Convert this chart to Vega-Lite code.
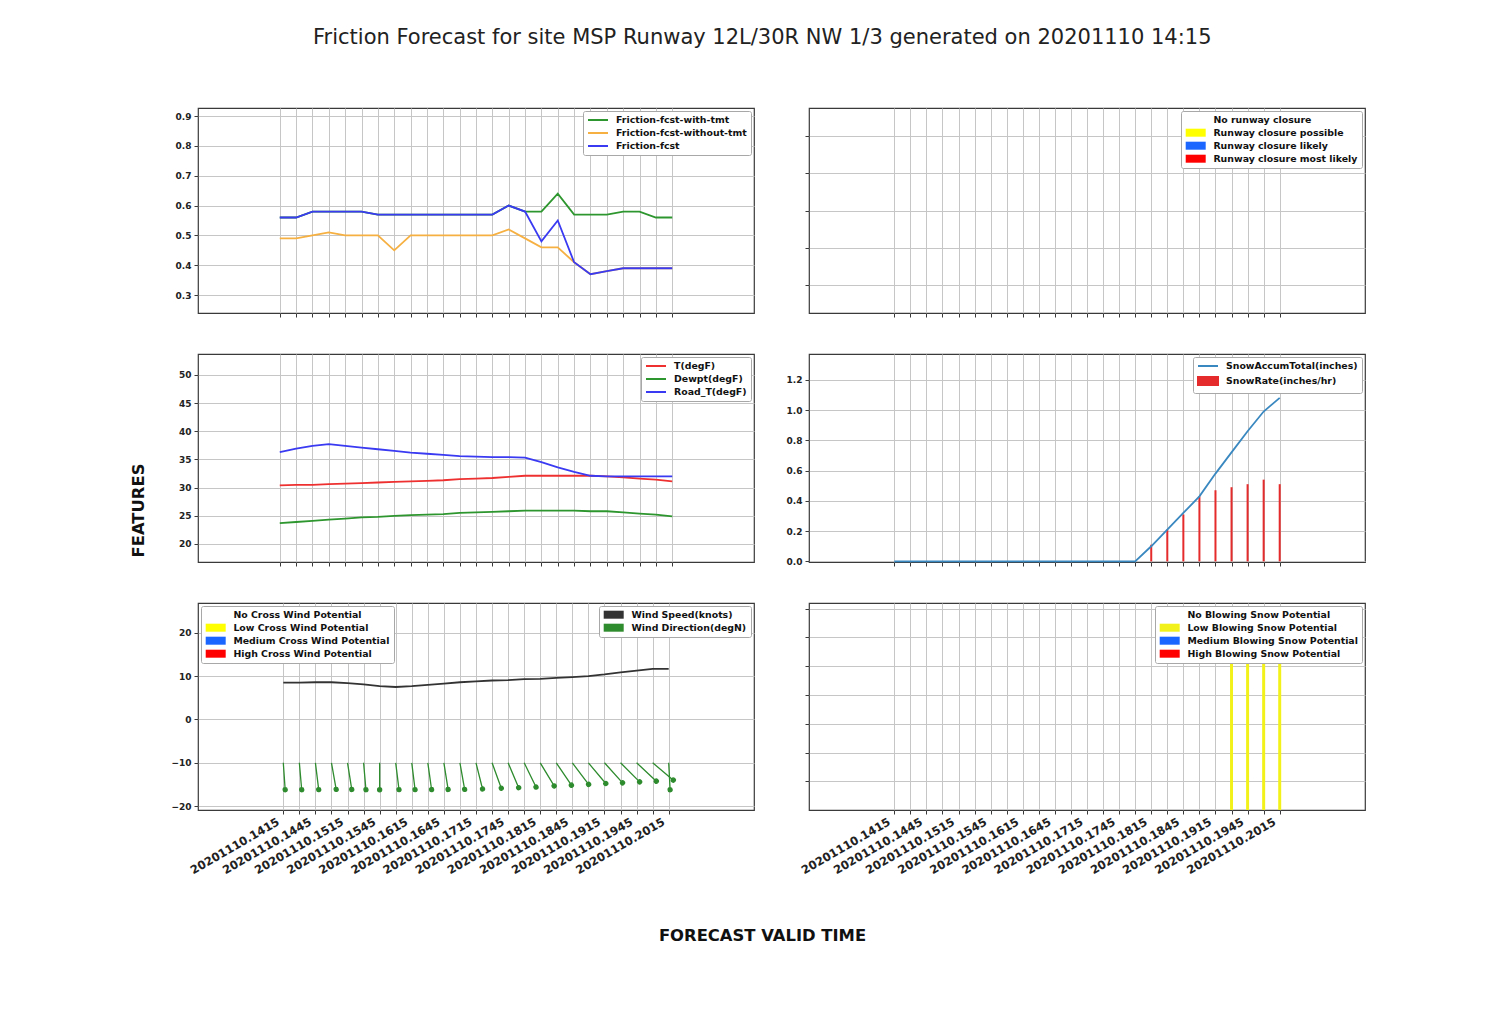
{
"$schema": "https://vega.github.io/schema/vega-lite/v6.json",
"autosize": {"type": "none"},
"padding": {"left": 198, "top": 108, "right": 1303, "bottom": 901},
"background": "white",
"title": {"text": "Friction Forecast for site MSP Runway 12L/30R NW 1/3 generated on 20201110 14:15", "font": "DejaVu Sans", "fontSize": 21, "fontWeight": "normal", "color": "#222222", "anchor": "start", "frame": "group", "dx": 115, "offset": 42, "baseline": "alphabetic"},
"data": {"format": {"parse": {"time": "date:'%Y%m%d.%H%M'"}}, "values": [
{"time":"20201110.1415","Friction-fcst-with-tmt":0.56,"Friction-fcst-without-tmt":0.49,"Friction-fcst":0.56,"T(degF)":30.4,"Dewpt(degF)":23.7,"Road_T(degF)":36.3,"acc":0,"rate":0,"ws":8.5,"wd":356,"cl":"No runway closure","clv":0,"cw":"No Cross Wind Potential","cwv":0,"bs":"No Blowing Snow Potential","bsv":0},
{"time":"20201110.1430","Friction-fcst-with-tmt":0.56,"Friction-fcst-without-tmt":0.49,"Friction-fcst":0.56,"T(degF)":30.5,"Dewpt(degF)":23.9,"Road_T(degF)":36.9,"acc":0,"rate":0,"ws":8.5,"wd":355,"cl":"No runway closure","clv":0,"cw":"No Cross Wind Potential","cwv":0,"bs":"No Blowing Snow Potential","bsv":0},
{"time":"20201110.1445","Friction-fcst-with-tmt":0.58,"Friction-fcst-without-tmt":0.50,"Friction-fcst":0.58,"T(degF)":30.5,"Dewpt(degF)":24.1,"Road_T(degF)":37.4,"acc":0,"rate":0,"ws":8.6,"wd":353,"cl":"No runway closure","clv":0,"cw":"No Cross Wind Potential","cwv":0,"bs":"No Blowing Snow Potential","bsv":0},
{"time":"20201110.1500","Friction-fcst-with-tmt":0.58,"Friction-fcst-without-tmt":0.51,"Friction-fcst":0.58,"T(degF)":30.6,"Dewpt(degF)":24.3,"Road_T(degF)":37.7,"acc":0,"rate":0,"ws":8.6,"wd":350,"cl":"No runway closure","clv":0,"cw":"No Cross Wind Potential","cwv":0,"bs":"No Blowing Snow Potential","bsv":0},
{"time":"20201110.1515","Friction-fcst-with-tmt":0.58,"Friction-fcst-without-tmt":0.50,"Friction-fcst":0.58,"T(degF)":30.7,"Dewpt(degF)":24.5,"Road_T(degF)":37.4,"acc":0,"rate":0,"ws":8.4,"wd":351,"cl":"No runway closure","clv":0,"cw":"No Cross Wind Potential","cwv":0,"bs":"No Blowing Snow Potential","bsv":0},
{"time":"20201110.1530","Friction-fcst-with-tmt":0.58,"Friction-fcst-without-tmt":0.50,"Friction-fcst":0.58,"T(degF)":30.8,"Dewpt(degF)":24.7,"Road_T(degF)":37.1,"acc":0,"rate":0,"ws":8.1,"wd":355,"cl":"No runway closure","clv":0,"cw":"No Cross Wind Potential","cwv":0,"bs":"No Blowing Snow Potential","bsv":0},
{"time":"20201110.1545","Friction-fcst-with-tmt":0.57,"Friction-fcst-without-tmt":0.50,"Friction-fcst":0.57,"T(degF)":30.9,"Dewpt(degF)":24.8,"Road_T(degF)":36.8,"acc":0,"rate":0,"ws":7.7,"wd":0,"cl":"No runway closure","clv":0,"cw":"No Cross Wind Potential","cwv":0,"bs":"No Blowing Snow Potential","bsv":0},
{"time":"20201110.1600","Friction-fcst-with-tmt":0.57,"Friction-fcst-without-tmt":0.45,"Friction-fcst":0.57,"T(degF)":31.0,"Dewpt(degF)":25.0,"Road_T(degF)":36.5,"acc":0,"rate":0,"ws":7.5,"wd":353,"cl":"No runway closure","clv":0,"cw":"No Cross Wind Potential","cwv":0,"bs":"No Blowing Snow Potential","bsv":0},
{"time":"20201110.1615","Friction-fcst-with-tmt":0.57,"Friction-fcst-without-tmt":0.50,"Friction-fcst":0.57,"T(degF)":31.1,"Dewpt(degF)":25.1,"Road_T(degF)":36.2,"acc":0,"rate":0,"ws":7.7,"wd":353,"cl":"No runway closure","clv":0,"cw":"No Cross Wind Potential","cwv":0,"bs":"No Blowing Snow Potential","bsv":0},
{"time":"20201110.1630","Friction-fcst-with-tmt":0.57,"Friction-fcst-without-tmt":0.50,"Friction-fcst":0.57,"T(degF)":31.2,"Dewpt(degF)":25.2,"Road_T(degF)":36.0,"acc":0,"rate":0,"ws":8.0,"wd":352,"cl":"No runway closure","clv":0,"cw":"No Cross Wind Potential","cwv":0,"bs":"No Blowing Snow Potential","bsv":0},
{"time":"20201110.1645","Friction-fcst-with-tmt":0.57,"Friction-fcst-without-tmt":0.50,"Friction-fcst":0.57,"T(degF)":31.3,"Dewpt(degF)":25.3,"Road_T(degF)":35.8,"acc":0,"rate":0,"ws":8.3,"wd":351,"cl":"No runway closure","clv":0,"cw":"No Cross Wind Potential","cwv":0,"bs":"No Blowing Snow Potential","bsv":0},
{"time":"20201110.1700","Friction-fcst-with-tmt":0.57,"Friction-fcst-without-tmt":0.50,"Friction-fcst":0.57,"T(degF)":31.5,"Dewpt(degF)":25.5,"Road_T(degF)":35.6,"acc":0,"rate":0,"ws":8.6,"wd":350,"cl":"No runway closure","clv":0,"cw":"No Cross Wind Potential","cwv":0,"bs":"No Blowing Snow Potential","bsv":0},
{"time":"20201110.1715","Friction-fcst-with-tmt":0.57,"Friction-fcst-without-tmt":0.50,"Friction-fcst":0.57,"T(degF)":31.6,"Dewpt(degF)":25.6,"Road_T(degF)":35.5,"acc":0,"rate":0,"ws":8.8,"wd":346,"cl":"No runway closure","clv":0,"cw":"No Cross Wind Potential","cwv":0,"bs":"No Blowing Snow Potential","bsv":0},
{"time":"20201110.1730","Friction-fcst-with-tmt":0.57,"Friction-fcst-without-tmt":0.50,"Friction-fcst":0.57,"T(degF)":31.7,"Dewpt(degF)":25.7,"Road_T(degF)":35.4,"acc":0,"rate":0,"ws":9.0,"wd":340,"cl":"No runway closure","clv":0,"cw":"No Cross Wind Potential","cwv":0,"bs":"No Blowing Snow Potential","bsv":0},
{"time":"20201110.1745","Friction-fcst-with-tmt":0.60,"Friction-fcst-without-tmt":0.52,"Friction-fcst":0.60,"T(degF)":31.9,"Dewpt(degF)":25.8,"Road_T(degF)":35.4,"acc":0,"rate":0,"ws":9.1,"wd":337,"cl":"No runway closure","clv":0,"cw":"No Cross Wind Potential","cwv":0,"bs":"No Blowing Snow Potential","bsv":0},
{"time":"20201110.1800","Friction-fcst-with-tmt":0.58,"Friction-fcst-without-tmt":0.49,"Friction-fcst":0.58,"T(degF)":32.1,"Dewpt(degF)":25.9,"Road_T(degF)":35.3,"acc":0,"rate":0,"ws":9.3,"wd":334,"cl":"No runway closure","clv":0,"cw":"No Cross Wind Potential","cwv":0,"bs":"No Blowing Snow Potential","bsv":0},
{"time":"20201110.1815","Friction-fcst-with-tmt":0.58,"Friction-fcst-without-tmt":0.46,"Friction-fcst":0.48,"T(degF)":32.1,"Dewpt(degF)":25.9,"Road_T(degF)":34.5,"acc":0.10,"rate":0.11,"ws":9.4,"wd":329,"cl":"No runway closure","clv":0,"cw":"No Cross Wind Potential","cwv":0,"bs":"No Blowing Snow Potential","bsv":0},
{"time":"20201110.1830","Friction-fcst-with-tmt":0.64,"Friction-fcst-without-tmt":0.46,"Friction-fcst":0.55,"T(degF)":32.1,"Dewpt(degF)":25.9,"Road_T(degF)":33.6,"acc":0.21,"rate":0.21,"ws":9.6,"wd":326,"cl":"No runway closure","clv":0,"cw":"No Cross Wind Potential","cwv":0,"bs":"No Blowing Snow Potential","bsv":0},
{"time":"20201110.1845","Friction-fcst-with-tmt":0.57,"Friction-fcst-without-tmt":0.41,"Friction-fcst":0.41,"T(degF)":32.1,"Dewpt(degF)":25.9,"Road_T(degF)":32.8,"acc":0.32,"rate":0.31,"ws":9.8,"wd":323,"cl":"No runway closure","clv":0,"cw":"No Cross Wind Potential","cwv":0,"bs":"No Blowing Snow Potential","bsv":0},
{"time":"20201110.1900","Friction-fcst-with-tmt":0.57,"Friction-fcst-without-tmt":0.37,"Friction-fcst":0.37,"T(degF)":32.1,"Dewpt(degF)":25.8,"Road_T(degF)":32.1,"acc":0.43,"rate":0.43,"ws":10.0,"wd":320,"cl":"No runway closure","clv":0,"cw":"No Cross Wind Potential","cwv":0,"bs":"No Blowing Snow Potential","bsv":0},
{"time":"20201110.1915","Friction-fcst-with-tmt":0.57,"Friction-fcst-without-tmt":0.38,"Friction-fcst":0.38,"T(degF)":32.0,"Dewpt(degF)":25.8,"Road_T(degF)":32.0,"acc":0.58,"rate":0.47,"ws":10.4,"wd":318,"cl":"No runway closure","clv":0,"cw":"No Cross Wind Potential","cwv":0,"bs":"No Blowing Snow Potential","bsv":0},
{"time":"20201110.1930","Friction-fcst-with-tmt":0.58,"Friction-fcst-without-tmt":0.39,"Friction-fcst":0.39,"T(degF)":31.8,"Dewpt(degF)":25.6,"Road_T(degF)":32.0,"acc":0.72,"rate":0.49,"ws":10.9,"wd":315,"cl":"No runway closure","clv":0,"cw":"No Cross Wind Potential","cwv":0,"bs":"Low Blowing Snow Potential","bsv":1.4},
{"time":"20201110.1945","Friction-fcst-with-tmt":0.58,"Friction-fcst-without-tmt":0.39,"Friction-fcst":0.39,"T(degF)":31.6,"Dewpt(degF)":25.4,"Road_T(degF)":32.0,"acc":0.86,"rate":0.51,"ws":11.3,"wd":313,"cl":"No runway closure","clv":0,"cw":"No Cross Wind Potential","cwv":0,"bs":"Low Blowing Snow Potential","bsv":1.4},
{"time":"20201110.2000","Friction-fcst-with-tmt":0.56,"Friction-fcst-without-tmt":0.39,"Friction-fcst":0.39,"T(degF)":31.4,"Dewpt(degF)":25.2,"Road_T(degF)":32.0,"acc":0.99,"rate":0.54,"ws":11.7,"wd":310,"cl":"No runway closure","clv":0,"cw":"No Cross Wind Potential","cwv":0,"bs":"Low Blowing Snow Potential","bsv":1.4},
{"time":"20201110.2015","Friction-fcst-with-tmt":0.56,"Friction-fcst-without-tmt":0.39,"Friction-fcst":0.39,"T(degF)":31.1,"Dewpt(degF)":24.9,"Road_T(degF)":32.0,"acc":1.08,"rate":0.51,"ws":11.7,"wd":357,"cl":"No runway closure","clv":0,"cw":"No Cross Wind Potential","cwv":0,"bs":"Low Blowing Snow Potential","bsv":1.4}
]},
"columns": 2,
"spacing": {"row": 41, "column": 55},
"bounds": "flush",
"align": "each",
"resolve": {"scale": {"color": "independent", "fill": "independent", "x": "independent", "y": "independent"}, "legend": {"color": "independent", "fill": "independent"}},
"concat": [
{
 "width": 556, "height": 205,
 "transform": [{"fold": ["Friction-fcst-with-tmt", "Friction-fcst-without-tmt", "Friction-fcst"], "as": ["series", "value"]}],
 "mark": {"type": "line", "strokeWidth": 1.8},
 "encoding": {
  "x": {"field": "time", "type": "temporal", "scale": {"domain": [{"year":2020,"month":11,"date":10,"hours":13,"minutes":0},{"year":2020,"month":11,"date":10,"hours":21,"minutes":30}]},
   "axis": {"labels": false, "title": null, "values": [{"year":2020,"month":11,"date":10,"hours":14,"minutes":15},{"year":2020,"month":11,"date":10,"hours":14,"minutes":30},{"year":2020,"month":11,"date":10,"hours":14,"minutes":45},{"year":2020,"month":11,"date":10,"hours":15,"minutes":0},{"year":2020,"month":11,"date":10,"hours":15,"minutes":15},{"year":2020,"month":11,"date":10,"hours":15,"minutes":30},{"year":2020,"month":11,"date":10,"hours":15,"minutes":45},{"year":2020,"month":11,"date":10,"hours":16,"minutes":0},{"year":2020,"month":11,"date":10,"hours":16,"minutes":15},{"year":2020,"month":11,"date":10,"hours":16,"minutes":30},{"year":2020,"month":11,"date":10,"hours":16,"minutes":45},{"year":2020,"month":11,"date":10,"hours":17,"minutes":0},{"year":2020,"month":11,"date":10,"hours":17,"minutes":15},{"year":2020,"month":11,"date":10,"hours":17,"minutes":30},{"year":2020,"month":11,"date":10,"hours":17,"minutes":45},{"year":2020,"month":11,"date":10,"hours":18,"minutes":0},{"year":2020,"month":11,"date":10,"hours":18,"minutes":15},{"year":2020,"month":11,"date":10,"hours":18,"minutes":30},{"year":2020,"month":11,"date":10,"hours":18,"minutes":45},{"year":2020,"month":11,"date":10,"hours":19,"minutes":0},{"year":2020,"month":11,"date":10,"hours":19,"minutes":15},{"year":2020,"month":11,"date":10,"hours":19,"minutes":30},{"year":2020,"month":11,"date":10,"hours":19,"minutes":45},{"year":2020,"month":11,"date":10,"hours":20,"minutes":0},{"year":2020,"month":11,"date":10,"hours":20,"minutes":15}]}},
  "y": {"field": "value", "type": "quantitative", "scale": {"domain": [0.24, 0.927], "nice": false, "zero": false}, "axis": {"values": [0.3, 0.4, 0.5, 0.6, 0.7, 0.8, 0.9], "format": ".1f", "title": null}},
  "color": {"field": "series", "type": "nominal", "sort": null, "scale": {"domain": ["Friction-fcst-with-tmt", "Friction-fcst-without-tmt", "Friction-fcst"], "range": ["#2e962e", "#f6b042", "#3a3af2"]}, "legend": {"title": null, "orient": "top-right", "symbolType": "M-2.5,0H2.5", "rowPadding": 3}}
 }
},
{
 "width": 556, "height": 205,
 "mark": {"type": "bar", "size": 3},
 "encoding": {
  "x": {"field": "time", "type": "temporal", "scale": {"domain": [{"year":2020,"month":11,"date":10,"hours":13,"minutes":0},{"year":2020,"month":11,"date":10,"hours":21,"minutes":30}]},
   "axis": {"labels": false, "title": null, "values": [{"year":2020,"month":11,"date":10,"hours":14,"minutes":15},{"year":2020,"month":11,"date":10,"hours":14,"minutes":30},{"year":2020,"month":11,"date":10,"hours":14,"minutes":45},{"year":2020,"month":11,"date":10,"hours":15,"minutes":0},{"year":2020,"month":11,"date":10,"hours":15,"minutes":15},{"year":2020,"month":11,"date":10,"hours":15,"minutes":30},{"year":2020,"month":11,"date":10,"hours":15,"minutes":45},{"year":2020,"month":11,"date":10,"hours":16,"minutes":0},{"year":2020,"month":11,"date":10,"hours":16,"minutes":15},{"year":2020,"month":11,"date":10,"hours":16,"minutes":30},{"year":2020,"month":11,"date":10,"hours":16,"minutes":45},{"year":2020,"month":11,"date":10,"hours":17,"minutes":0},{"year":2020,"month":11,"date":10,"hours":17,"minutes":15},{"year":2020,"month":11,"date":10,"hours":17,"minutes":30},{"year":2020,"month":11,"date":10,"hours":17,"minutes":45},{"year":2020,"month":11,"date":10,"hours":18,"minutes":0},{"year":2020,"month":11,"date":10,"hours":18,"minutes":15},{"year":2020,"month":11,"date":10,"hours":18,"minutes":30},{"year":2020,"month":11,"date":10,"hours":18,"minutes":45},{"year":2020,"month":11,"date":10,"hours":19,"minutes":0},{"year":2020,"month":11,"date":10,"hours":19,"minutes":15},{"year":2020,"month":11,"date":10,"hours":19,"minutes":30},{"year":2020,"month":11,"date":10,"hours":19,"minutes":45},{"year":2020,"month":11,"date":10,"hours":20,"minutes":0},{"year":2020,"month":11,"date":10,"hours":20,"minutes":15}]}},
  "y": {"field": "clv", "type": "quantitative", "scale": {"domain": [-0.055, 0.055], "nice": false, "zero": false}, "axis": {"values": [-0.04, -0.02, 0, 0.02, 0.04], "labels": false, "title": null}},
  "fill": {"field": "cl", "type": "nominal", "scale": {"domain": ["No runway closure", "Runway closure possible", "Runway closure likely", "Runway closure most likely"], "range": ["#ffffff", "#ffff00", "#1a66ff", "#ff0000"]}, "legend": {"title": null, "orient": "top-right", "symbolType": "M-2.5,-1H2.5V1H-2.5Z", "symbolStrokeWidth": 0, "rowPadding": 2}}
 }
},
{
 "width": 556, "height": 208,
 "transform": [{"fold": ["T(degF)", "Dewpt(degF)", "Road_T(degF)"], "as": ["series", "value"]}],
 "mark": {"type": "line", "strokeWidth": 1.8},
 "encoding": {
  "x": {"field": "time", "type": "temporal", "scale": {"domain": [{"year":2020,"month":11,"date":10,"hours":13,"minutes":0},{"year":2020,"month":11,"date":10,"hours":21,"minutes":30}]},
   "axis": {"labels": false, "title": null, "values": [{"year":2020,"month":11,"date":10,"hours":14,"minutes":15},{"year":2020,"month":11,"date":10,"hours":14,"minutes":30},{"year":2020,"month":11,"date":10,"hours":14,"minutes":45},{"year":2020,"month":11,"date":10,"hours":15,"minutes":0},{"year":2020,"month":11,"date":10,"hours":15,"minutes":15},{"year":2020,"month":11,"date":10,"hours":15,"minutes":30},{"year":2020,"month":11,"date":10,"hours":15,"minutes":45},{"year":2020,"month":11,"date":10,"hours":16,"minutes":0},{"year":2020,"month":11,"date":10,"hours":16,"minutes":15},{"year":2020,"month":11,"date":10,"hours":16,"minutes":30},{"year":2020,"month":11,"date":10,"hours":16,"minutes":45},{"year":2020,"month":11,"date":10,"hours":17,"minutes":0},{"year":2020,"month":11,"date":10,"hours":17,"minutes":15},{"year":2020,"month":11,"date":10,"hours":17,"minutes":30},{"year":2020,"month":11,"date":10,"hours":17,"minutes":45},{"year":2020,"month":11,"date":10,"hours":18,"minutes":0},{"year":2020,"month":11,"date":10,"hours":18,"minutes":15},{"year":2020,"month":11,"date":10,"hours":18,"minutes":30},{"year":2020,"month":11,"date":10,"hours":18,"minutes":45},{"year":2020,"month":11,"date":10,"hours":19,"minutes":0},{"year":2020,"month":11,"date":10,"hours":19,"minutes":15},{"year":2020,"month":11,"date":10,"hours":19,"minutes":30},{"year":2020,"month":11,"date":10,"hours":19,"minutes":45},{"year":2020,"month":11,"date":10,"hours":20,"minutes":0},{"year":2020,"month":11,"date":10,"hours":20,"minutes":15}]}},
  "y": {"field": "value", "type": "quantitative", "scale": {"domain": [16.8, 53.7], "nice": false, "zero": false}, "axis": {"values": [20, 25, 30, 35, 40, 45, 50], "title": "FEATURES", "titleFont": "DejaVu Sans", "titleFontSize": 16.4, "titleFontWeight": "bold", "titleColor": "#111111", "titleX": -60, "titleY": 156, "titleAngle": 270, "titleAlign": "center", "titleBaseline": "middle"}},
  "color": {"field": "series", "type": "nominal", "sort": null, "scale": {"domain": ["T(degF)", "Dewpt(degF)", "Road_T(degF)"], "range": ["#ee3030", "#2e962e", "#3a3af2"]}, "legend": {"title": null, "orient": "top-right", "symbolType": "M-2.5,0H2.5", "rowPadding": 3}}
 }
},
{
 "width": 556, "height": 208,
 "encoding": {"x": {"field": "time", "type": "temporal", "scale": {"domain": [{"year":2020,"month":11,"date":10,"hours":13,"minutes":0},{"year":2020,"month":11,"date":10,"hours":21,"minutes":30}]},
   "axis": {"labels": false, "title": null, "values": [{"year":2020,"month":11,"date":10,"hours":14,"minutes":15},{"year":2020,"month":11,"date":10,"hours":14,"minutes":30},{"year":2020,"month":11,"date":10,"hours":14,"minutes":45},{"year":2020,"month":11,"date":10,"hours":15,"minutes":0},{"year":2020,"month":11,"date":10,"hours":15,"minutes":15},{"year":2020,"month":11,"date":10,"hours":15,"minutes":30},{"year":2020,"month":11,"date":10,"hours":15,"minutes":45},{"year":2020,"month":11,"date":10,"hours":16,"minutes":0},{"year":2020,"month":11,"date":10,"hours":16,"minutes":15},{"year":2020,"month":11,"date":10,"hours":16,"minutes":30},{"year":2020,"month":11,"date":10,"hours":16,"minutes":45},{"year":2020,"month":11,"date":10,"hours":17,"minutes":0},{"year":2020,"month":11,"date":10,"hours":17,"minutes":15},{"year":2020,"month":11,"date":10,"hours":17,"minutes":30},{"year":2020,"month":11,"date":10,"hours":17,"minutes":45},{"year":2020,"month":11,"date":10,"hours":18,"minutes":0},{"year":2020,"month":11,"date":10,"hours":18,"minutes":15},{"year":2020,"month":11,"date":10,"hours":18,"minutes":30},{"year":2020,"month":11,"date":10,"hours":18,"minutes":45},{"year":2020,"month":11,"date":10,"hours":19,"minutes":0},{"year":2020,"month":11,"date":10,"hours":19,"minutes":15},{"year":2020,"month":11,"date":10,"hours":19,"minutes":30},{"year":2020,"month":11,"date":10,"hours":19,"minutes":45},{"year":2020,"month":11,"date":10,"hours":20,"minutes":0},{"year":2020,"month":11,"date":10,"hours":20,"minutes":15}]}}},
 "layer": [
  {"mark": {"type": "bar", "size": 2},
   "encoding": {
    "y": {"field": "rate", "type": "quantitative", "scale": {"domain": [-0.004, 1.37], "nice": false, "zero": false}, "axis": {"values": [0, 0.2, 0.4, 0.6, 0.8, 1.0, 1.2], "format": ".1f", "title": null}},
    "color": {"datum": "SnowRate(inches/hr)", "type": "nominal", "scale": {"domain": ["SnowAccumTotal(inches)", "SnowRate(inches/hr)"], "range": ["#3a88c0", "#e52b2b"]},
     "legend": {"title": null, "orient": "top-right", "symbolType": "M-2.5,0H2.5", "rowPadding": 2,
      "encode": {"symbols": {"update": {
        "shape": {"signal": "datum.label === 'SnowRate(inches/hr)' ? 'M-2.5,-1H2.5V1H-2.5Z' : 'M-2.5,0H2.5'"},
        "fill": {"signal": "datum.label === 'SnowRate(inches/hr)' ? '#ff0000' : 'transparent'"},
        "stroke": {"signal": "datum.label === 'SnowRate(inches/hr)' ? 'transparent' : '#3a88c0'"},
        "strokeWidth": {"value": 2}, "opacity": {"value": 1}}}}}}
   }},
  {"mark": {"type": "line", "strokeWidth": 1.8},
   "encoding": {
    "y": {"field": "acc", "type": "quantitative", "scale": {"domain": [-0.004, 1.37], "nice": false, "zero": false}, "axis": {"values": [0, 0.2, 0.4, 0.6, 0.8, 1.0, 1.2], "format": ".1f", "title": null}},
    "color": {"datum": "SnowAccumTotal(inches)", "type": "nominal"}
   }}
 ]
},
{
 "width": 556, "height": 207,
 "encoding": {"x": {"field": "time", "type": "temporal", "scale": {"domain": [{"year":2020,"month":11,"date":10,"hours":13,"minutes":0},{"year":2020,"month":11,"date":10,"hours":21,"minutes":30}]},
   "axis": {"values": [{"year":2020,"month":11,"date":10,"hours":14,"minutes":15},{"year":2020,"month":11,"date":10,"hours":14,"minutes":30},{"year":2020,"month":11,"date":10,"hours":14,"minutes":45},{"year":2020,"month":11,"date":10,"hours":15,"minutes":0},{"year":2020,"month":11,"date":10,"hours":15,"minutes":15},{"year":2020,"month":11,"date":10,"hours":15,"minutes":30},{"year":2020,"month":11,"date":10,"hours":15,"minutes":45},{"year":2020,"month":11,"date":10,"hours":16,"minutes":0},{"year":2020,"month":11,"date":10,"hours":16,"minutes":15},{"year":2020,"month":11,"date":10,"hours":16,"minutes":30},{"year":2020,"month":11,"date":10,"hours":16,"minutes":45},{"year":2020,"month":11,"date":10,"hours":17,"minutes":0},{"year":2020,"month":11,"date":10,"hours":17,"minutes":15},{"year":2020,"month":11,"date":10,"hours":17,"minutes":30},{"year":2020,"month":11,"date":10,"hours":17,"minutes":45},{"year":2020,"month":11,"date":10,"hours":18,"minutes":0},{"year":2020,"month":11,"date":10,"hours":18,"minutes":15},{"year":2020,"month":11,"date":10,"hours":18,"minutes":30},{"year":2020,"month":11,"date":10,"hours":18,"minutes":45},{"year":2020,"month":11,"date":10,"hours":19,"minutes":0},{"year":2020,"month":11,"date":10,"hours":19,"minutes":15},{"year":2020,"month":11,"date":10,"hours":19,"minutes":30},{"year":2020,"month":11,"date":10,"hours":19,"minutes":45},{"year":2020,"month":11,"date":10,"hours":20,"minutes":0},{"year":2020,"month":11,"date":10,"hours":20,"minutes":15}],
    "labelAngle": -30, "labelAlign": "right", "labelBaseline": "top", "labelFontSize": 11.5, "labelPadding": 2, "labelOffset": -8, "labelOverlap": false, "labelBound": false,
    "labelExpr": "minutes(datum.value) % 30 == 15 ? timeFormat(datum.value, '%Y%m%d.%H%M') : ''",
    "title": "FORECAST VALID TIME", "titleFont": "DejaVu Sans", "titleFontSize": 16.4, "titleFontWeight": "bold", "titleColor": "#111111", "titleX": 564, "titleY": 125, "titleAlign": "center", "titleBaseline": "middle", "titleAngle": 0}}},
 "layer": [
  {"mark": {"type": "bar", "size": 3},
   "encoding": {
    "y": {"field": "cwv", "type": "quantitative", "scale": {"domain": [-20.9, 26.9], "nice": false, "zero": false}, "axis": {"values": [-20, -10, 0, 10, 20], "title": null}},
    "fill": {"field": "cw", "type": "nominal", "scale": {"domain": ["No Cross Wind Potential", "Low Cross Wind Potential", "Medium Cross Wind Potential", "High Cross Wind Potential"], "range": ["#ffffff", "#ffff00", "#1a66ff", "#ff0000"]}, "legend": {"title": null, "orient": "top-left", "symbolType": "M-2.5,-1H2.5V1H-2.5Z", "symbolStrokeWidth": 0, "rowPadding": 2}}
   }},
  {"mark": {"type": "line", "strokeWidth": 1.8},
   "encoding": {
    "y": {"field": "ws", "type": "quantitative", "scale": {"domain": [-20.9, 26.9], "nice": false, "zero": false}, "axis": {"values": [-20, -10, 0, 10, 20], "title": null}},
    "color": {"datum": "Wind Speed(knots)", "type": "nominal", "scale": {"domain": ["Wind Speed(knots)", "Wind Direction(degN)"], "range": ["#333333", "#2e8b2e"]},
     "legend": {"title": null, "orient": "top-right", "symbolType": "M-2.5,-1H2.5V1H-2.5Z", "rowPadding": 2,
      "encode": {"symbols": {"update": {
        "shape": {"value": "M-2.5,-1H2.5V1H-2.5Z"},
        "fill": {"signal": "datum.label === 'Wind Speed(knots)' ? '#000000' : '#117711'"},
        "stroke": {"value": "transparent"},
        "strokeWidth": {"value": 0}, "opacity": {"value": 1}}}}}}
   }},
  {"mark": {"type": "point", "shape": "M0,0L0,2M-0.15,2A0.15,0.15 0 1 0 0.15,2A0.15,0.15 0 1 0 -0.15,2Z", "filled": true, "size": 729, "stroke": "#2e8b2e", "strokeWidth": 1.3, "opacity": 1},
   "encoding": {
    "y": {"datum": -10, "type": "quantitative", "scale": {"domain": [-20.9, 26.9], "nice": false, "zero": false}, "axis": {"values": [-20, -10, 0, 10, 20], "title": null}},
    "angle": {"field": "wd", "type": "quantitative", "scale": null},
    "color": {"datum": "Wind Direction(degN)", "type": "nominal"}
   }}
 ]
},
{
 "width": 556, "height": 207,
 "mark": {"type": "bar", "size": 3},
 "encoding": {
  "x": {"field": "time", "type": "temporal", "scale": {"domain": [{"year":2020,"month":11,"date":10,"hours":13,"minutes":0},{"year":2020,"month":11,"date":10,"hours":21,"minutes":30}]},
   "axis": {"values": [{"year":2020,"month":11,"date":10,"hours":14,"minutes":15},{"year":2020,"month":11,"date":10,"hours":14,"minutes":30},{"year":2020,"month":11,"date":10,"hours":14,"minutes":45},{"year":2020,"month":11,"date":10,"hours":15,"minutes":0},{"year":2020,"month":11,"date":10,"hours":15,"minutes":15},{"year":2020,"month":11,"date":10,"hours":15,"minutes":30},{"year":2020,"month":11,"date":10,"hours":15,"minutes":45},{"year":2020,"month":11,"date":10,"hours":16,"minutes":0},{"year":2020,"month":11,"date":10,"hours":16,"minutes":15},{"year":2020,"month":11,"date":10,"hours":16,"minutes":30},{"year":2020,"month":11,"date":10,"hours":16,"minutes":45},{"year":2020,"month":11,"date":10,"hours":17,"minutes":0},{"year":2020,"month":11,"date":10,"hours":17,"minutes":15},{"year":2020,"month":11,"date":10,"hours":17,"minutes":30},{"year":2020,"month":11,"date":10,"hours":17,"minutes":45},{"year":2020,"month":11,"date":10,"hours":18,"minutes":0},{"year":2020,"month":11,"date":10,"hours":18,"minutes":15},{"year":2020,"month":11,"date":10,"hours":18,"minutes":30},{"year":2020,"month":11,"date":10,"hours":18,"minutes":45},{"year":2020,"month":11,"date":10,"hours":19,"minutes":0},{"year":2020,"month":11,"date":10,"hours":19,"minutes":15},{"year":2020,"month":11,"date":10,"hours":19,"minutes":30},{"year":2020,"month":11,"date":10,"hours":19,"minutes":45},{"year":2020,"month":11,"date":10,"hours":20,"minutes":0},{"year":2020,"month":11,"date":10,"hours":20,"minutes":15}],
    "labelAngle": -30, "labelAlign": "right", "labelBaseline": "top", "labelFontSize": 11.5, "labelPadding": 2, "labelOffset": -8, "labelOverlap": false, "labelBound": false,
    "labelExpr": "minutes(datum.value) % 30 == 15 ? timeFormat(datum.value, '%Y%m%d.%H%M') : ''", "title": null}},
  "y": {"field": "bsv", "type": "quantitative", "scale": {"domain": [0, 1.44], "nice": false, "zero": false}, "axis": {"values": [0.2, 0.4, 0.6, 0.8, 1.0, 1.2, 1.4], "labels": false, "title": null}},
  "fill": {"field": "bs", "type": "nominal", "scale": {"domain": ["No Blowing Snow Potential", "Low Blowing Snow Potential", "Medium Blowing Snow Potential", "High Blowing Snow Potential"], "range": ["#ffffff", "#f2f21a", "#1a66ff", "#ff0000"]}, "legend": {"title": null, "orient": "top-right", "symbolType": "M-2.5,-1H2.5V1H-2.5Z", "symbolStrokeWidth": 0, "rowPadding": 2}}
 }
}
],
"config": {
 "font": "DejaVu Sans",
 "view": {"stroke": "#3a3a3a", "strokeWidth": 1.2},
 "axis": {"domain": false, "grid": true, "gridColor": "#c6c6c6", "gridWidth": 1, "tickColor": "#3a3a3a", "tickSize": 4, "labelFont": "DejaVu Sans", "labelFontWeight": "bold", "labelFontSize": 9, "labelColor": "#222222", "labelPadding": 3},
 "legend": {"labelFont": "DejaVu Sans", "labelFontSize": 9.4, "labelFontWeight": "bold", "labelColor": "#111111", "fillColor": "white", "strokeColor": "#a8a8a8", "padding": 4, "rowPadding": 4, "symbolSize": 64, "symbolStrokeWidth": 2, "symbolOffset": 6, "labelOffset": 13, "offset": 3, "cornerRadius": 2, "labelLimit": 400, "symbolOpacity": 1}
}
}
